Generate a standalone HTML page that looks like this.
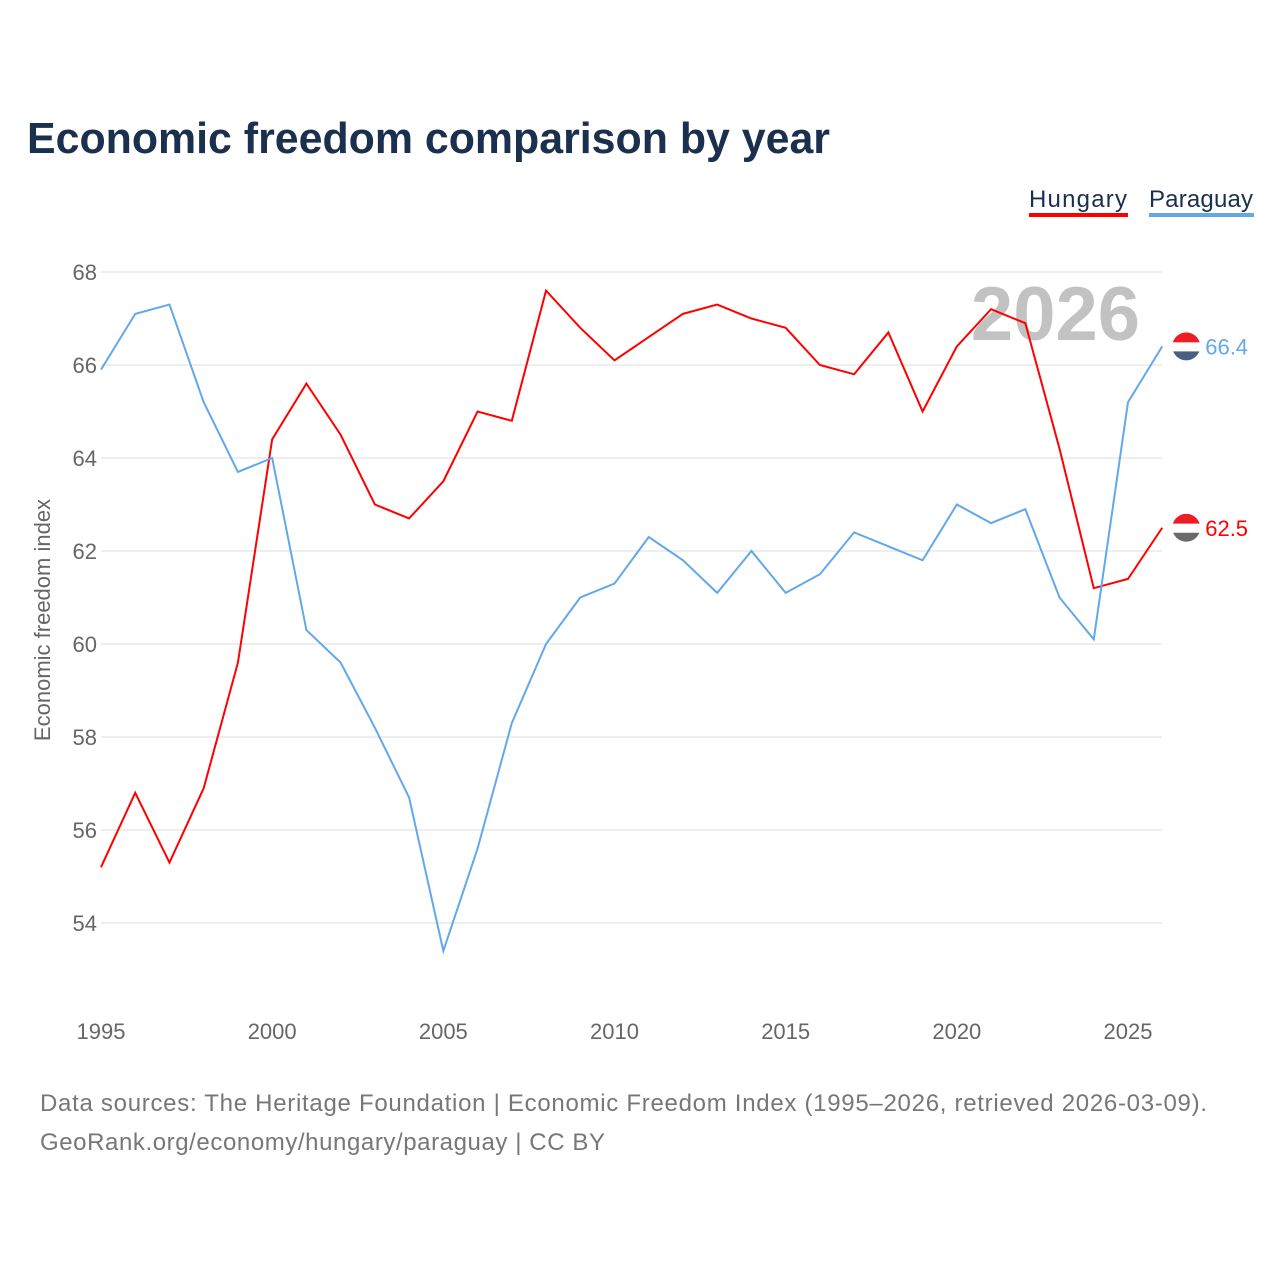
<!DOCTYPE html>
<html><head><meta charset="utf-8"><style>
body{margin:0;background:#fff;font-family:"Liberation Sans",sans-serif}
#wrap{position:relative;width:1280px;height:1280px;overflow:hidden}
</style></head><body>
<div id="wrap">
<svg id="chart" width="1280" height="1280">
<text x="27" y="153" font-size="44" font-weight="bold" fill="#1b2f4e" textLength="803" lengthAdjust="spacingAndGlyphs">Economic freedom comparison by year</text>
<g>
<text x="1029" y="207" font-size="24" fill="#1b2f4e" textLength="98">Hungary</text>
<rect x="1029" y="213" width="99" height="4" fill="#ff0000"/>
<text x="1149" y="207" font-size="24" fill="#1b2f4e" textLength="104">Paraguay</text>
<rect x="1149" y="213" width="105" height="4" fill="#62a8ea"/>
</g>
<text x="1140" y="340" font-size="76" font-weight="bold" fill="#c2c2c2" text-anchor="end">2026</text>
<g id="grid"></g><g id="lines"></g>
<text transform="translate(50,620) rotate(-90)" font-size="22" fill="#666" text-anchor="middle">Economic freedom index</text>
<text x="40" y="1111" font-size="24" fill="#777" textLength="1167">Data sources: The Heritage Foundation | Economic Freedom Index (1995–2026, retrieved 2026-03-09).</text>
<text x="40" y="1150" font-size="24" fill="#777" textLength="565">GeoRank.org/economy/hungary/paraguay | CC BY</text>
</svg>
</div>
<script>
const years=[1995,1996,1997,1998,1999,2000,2001,2002,2003,2004,2005,2006,2007,2008,2009,2010,2011,2012,2013,2014,2015,2016,2017,2018,2019,2020,2021,2022,2023,2024,2025,2026];
const hungary=[55.2,56.8,55.3,56.9,59.6,64.4,65.6,64.5,63.0,62.7,63.5,65.0,64.8,67.6,66.8,66.1,66.6,67.1,67.3,67.0,66.8,66.0,65.8,66.7,65.0,66.4,67.2,66.9,64.2,61.2,61.4,62.5];
const paraguay=[65.9,67.1,67.3,65.2,63.7,64.0,60.3,59.6,58.2,56.7,53.4,55.6,58.3,60.0,61.0,61.3,62.3,61.8,61.1,62.0,61.1,61.5,62.4,62.1,61.8,63.0,62.6,62.9,61.0,60.1,65.2,66.4];
const yTicks=[54,56,58,60,62,64,66,68];
const xTicks=[1995,2000,2005,2010,2015,2020,2025];
const NS="http://www.w3.org/2000/svg";
const X=y=>101+(y-1995)*(1128-101)/30;
const Y=v=>272+(68-v)*(923-272)/14;
function mk(t,a,p){const e=document.createElementNS(NS,t);for(const k in a)e.setAttribute(k,a[k]);p.appendChild(e);return e;}
const g=document.getElementById('grid'),L=document.getElementById('lines');
yTicks.forEach(v=>{
 const l=mk('line',{x1:101,x2:1162,y1:Y(v),y2:Y(v),stroke:'#e8e8e8','stroke-width':1.5},g);
 
 
 const t=mk('text',{x:97,y:Y(v)+8,'font-size':22,fill:'#666','text-anchor':'end'},g);t.textContent=v;
 
 
});
xTicks.forEach(v=>{
 const t=mk('text',{x:X(v),y:1039,'font-size':22,fill:'#666','text-anchor':'middle'},g);t.textContent=v;
 
 
});
function series(vals,color,name,c1,c2){
 const p=mk('polyline',{points:vals.map((v,i)=>X(years[i])+','+Y(v)).join(' '),fill:'none',stroke:color,'stroke-width':2},L);
 
 
 const last=vals[vals.length-1],cx=X(years[years.length-1])+24,cy=Y(last);
 const fg=mk('g',{},L);
 
 
 const cp=mk('clipPath',{id:'c'+name},fg);
 mk('circle',{cx:cx,cy:cy,r:14},cp);
 const cg=mk('g',{'clip-path':'url(#c'+name+')'},fg);
 mk('rect',{x:cx-14,y:cy-14,width:28,height:10,fill:'#ee1c25'},cg);
 mk('rect',{x:cx-14,y:cy-4,width:28,height:9,fill:'#fff'},cg);
 mk('rect',{x:cx-14,y:cy+5,width:28,height:10,fill:c2},cg);
 const t=mk('text',{x:cx+19,y:cy+8,'font-size':22,fill:color},L);t.textContent=last.toFixed(1);
 
 
}
series(hungary,'#ff0000','hungary','#ee1c25','#6a6a6a');
series(paraguay,'#62a8ea','paraguay','#ee1c25','#4a5e85');
</script>
</body></html>
